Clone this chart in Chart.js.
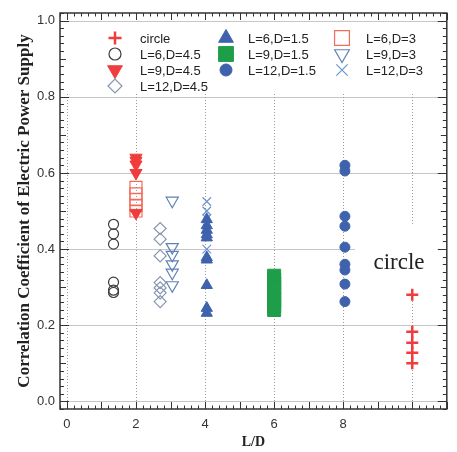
<!DOCTYPE html>
<html>
<head>
<meta charset="utf-8">
<script src="https://cdn.jsdelivr.net/npm/chart.js@4.4.0/dist/chart.umd.min.js"></script>
<style>
html, body { margin: 0; padding: 0; background: #fff; }
</style>
</head>
<body>
<canvas id="ldChart" width="457" height="452"></canvas>
<script>
// series, in legend order
var seriesNames = ['circle', 'L=6,D=4.5', 'L=9,D=4.5', 'L=12,D=4.5',
	'L=6,D=1.5', 'L=9,D=1.5', 'L=12,D=1.5',
	'L=6,D=3', 'L=9,D=3', 'L=12,D=3'];

// L/D position of each series
var seriesX = [10, 1.35, 2, 2.7, 4.05, 6, 8.05, 2, 3.05, 4.05];

// correlation coefficients
var yCircle = [0.28, 0.183, 0.154, 0.128, 0.10];
var yL6D45 = [0.465, 0.44, 0.413, 0.313, 0.292, 0.286];
var yL9D45 = [0.64, 0.632, 0.622, 0.60, 0.495];
var yL12D45 = [0.454, 0.426, 0.382, 0.312, 0.298, 0.285, 0.262];
var yL6D15 = [0.478, 0.462, 0.45, 0.438, 0.43, 0.378, 0.372, 0.305, 0.245, 0.232];
var yL9D15 = [0.33, 0.32, 0.31, 0.30, 0.29, 0.28, 0.27, 0.26, 0.25, 0.24];
var yL12D15 = [0.62, 0.605, 0.486, 0.46, 0.405, 0.36, 0.345, 0.308, 0.262];
var yL6D3 = [0.562, 0.545, 0.53, 0.515, 0.50];
var yL9D3 = [0.527, 0.405, 0.385, 0.36, 0.338, 0.305];
var yL12D3 = [0.525, 0.50, 0.48, 0.465, 0.40];

var seriesY = [yCircle, yL6D45, yL9D45, yL12D45, yL6D15, yL9D15, yL12D15, yL6D3, yL9D3, yL12D3];

var xTickValues = [0, 2, 4, 6, 8];
var yTickValues = [0, 0.2, 0.4, 0.6, 0.8, 1.0];
var xGridValues = [0, 2, 4, 6, 8, 10];

var NONE = 'rgba(0,0,0,0)';
var styles = [
	{ shape: 'cross', rot: 0, bg: NONE, border: '#f03c3c', bw: 2.5, r: 6, lr: 6.5 },
	{ shape: 'circle', rot: 0, bg: NONE, border: '#3c3c3c', bw: 1.2, r: 5, lr: 6 },
	{ shape: 'triangle', rot: 180, bg: '#f03c3c', border: '#f03c3c', bw: 1, r: 7, lr: 8.5 },
	{ shape: 'rectRot', rot: 0, bg: NONE, border: '#8596b0', bw: 1.2, r: 6, lr: 7 },
	{ shape: 'triangle', rot: 0, bg: '#3f62ad', border: '#3f62ad', bw: 1, r: 6.5, lr: 8.5 },
	{ shape: 'rect', rot: 0, bg: '#1f9e4a', border: '#1f9e4a', bw: 1, r: 9.2, lr: 10.5 },
	{ shape: 'circle', rot: 0, bg: '#3f62ad', border: '#3f62ad', bw: 1, r: 5, lr: 6 },
	{ shape: 'rect', rot: 0, bg: NONE, border: '#f26b5b', bw: 1.2, r: 8.5, lr: 10.5 },
	{ shape: 'triangle', rot: 180, bg: NONE, border: '#5f82b4', bw: 1.2, r: 7, lr: 8.5 },
	{ shape: 'crossRot', rot: 0, bg: NONE, border: '#6b93cc', bw: 1.2, r: 6, lr: 8 }
];

// legend grid: [column x of marker, column x of text] and row y
var legendCols = [[115, 140], [226, 248], [342, 366]];
var legendRows = [38, 54, 70, 86];
var legendSlots = [[0, 0], [0, 1], [0, 2], [0, 3], [1, 0], [1, 1], [1, 2], [2, 0], [2, 1], [2, 2]];

var datasets = [];
for(var i = 0; i < seriesNames.length; i++) {
	var s = styles[i];
	datasets.push({
		label: seriesNames[i],
		data: seriesY[i].map(function(v) { return { x: seriesX[i], y: v }; }),
		pointStyle: s.shape,
		pointRotation: s.rot,
		pointRadius: s.r,
		pointHoverRadius: s.r,
		pointBackgroundColor: s.bg,
		pointBorderColor: s.border,
		pointBorderWidth: s.bw,
		showLine: false
	});
}

function drawMarker(ctx, s, x, y, r) {
	ctx.save();
	ctx.fillStyle = s.bg;
	ctx.strokeStyle = s.border;
	ctx.lineWidth = s.bw;
	Chart.helpers.drawPoint(ctx, { pointStyle: s.shape, radius: r, rotation: s.rot, borderWidth: s.bw }, x, y);
	ctx.restore();
}

// grid lines, white label boxes
var backdrop = {
	id: 'backdrop',
	beforeDatasetsDraw: function(chart) {
		var ctx = chart.ctx, a = chart.chartArea;
		var xs = chart.scales.x, ys = chart.scales.y;
		ctx.save();
		ctx.lineWidth = 1;
		ctx.strokeStyle = '#c6c6c6';
		yTickValues.forEach(function(v) {
			var py = Math.round(ys.getPixelForValue(v)) + 0.5;
			ctx.beginPath(); ctx.moveTo(a.left, py); ctx.lineTo(a.right, py); ctx.stroke();
		});
		ctx.strokeStyle = '#9a9a9a';
		ctx.setLineDash([1, 2]);
		xGridValues.forEach(function(v) {
			var px = Math.round(xs.getPixelForValue(v)) + 0.5;
			ctx.beginPath(); ctx.moveTo(px, a.top); ctx.lineTo(px, a.bottom); ctx.stroke();
		});
		ctx.setLineDash([]);
		ctx.fillStyle = '#fff';
		ctx.fillRect(a.left + 4, a.top + 9, a.right - a.left - 8, 72);
		ctx.fillRect(355, 224, a.right - 357, 66);
		ctx.fillStyle = '#222';
		ctx.font = '23px "Liberation Serif"';
		ctx.textAlign = 'center';
		ctx.textBaseline = 'middle';
		ctx.fillText('circle', 399, 263);
		ctx.restore();
	},
	afterDatasetsDraw: function(chart) {
		var ctx = chart.ctx;
		ctx.save();
		ctx.font = '13px "Liberation Sans"';
		ctx.fillStyle = '#222';
		ctx.textAlign = 'left';
		ctx.textBaseline = 'middle';
		for(var i = 0; i < seriesNames.length; i++) {
			var col = legendCols[legendSlots[i][0]];
			var y = legendRows[legendSlots[i][1]];
			drawMarker(ctx, styles[i], col[0], y, styles[i].lr);
			ctx.fillText(seriesNames[i], col[1], y + 1);
		}
		ctx.restore();
	},
	afterDraw: function(chart) {
		var ctx = chart.ctx, a = chart.chartArea;
		var xs = chart.scales.x, ys = chart.scales.y;
		ctx.save();
		ctx.strokeStyle = '#333';
		ctx.lineWidth = 1;
		ctx.beginPath();
		for(var k = -1; k <= 55; k++) {
			var px = Math.round(xs.getPixelForValue(k * 0.2)) + 0.5;
			var len = (k % 5 === 0) ? 7 : 3.5;
			ctx.moveTo(px, a.bottom); ctx.lineTo(px, a.bottom - len);
			ctx.moveTo(px, a.top); ctx.lineTo(px, a.top + len);
		}
		for(var j = -1; j <= 51; j++) {
			var py = Math.round(ys.getPixelForValue(j * 0.02)) + 0.5;
			var l2 = (j % 10 === 0) ? 9 : (j % 5 === 0 ? 6 : 4);
			ctx.moveTo(a.left, py); ctx.lineTo(a.left + l2, py);
			ctx.moveTo(a.right, py); ctx.lineTo(a.right - l2, py);
		}
		ctx.stroke();
		ctx.lineWidth = 1.5;
		ctx.strokeRect(a.left, a.top, a.right - a.left, a.bottom - a.top);
		ctx.restore();
	}
};

var ctx = document.getElementById('ldChart').getContext('2d');
var chart = new Chart(ctx, {
	type: 'scatter',
	data: { datasets: datasets },
	plugins: [backdrop],
	options: {
		responsive: false,
		devicePixelRatio: 1,
		animation: false,
		layout: { padding: { top: 13, right: 5, left: 0, bottom: 0 } },
		plugins: {
			legend: { display: false },
			tooltip: { enabled: false }
		},
		scales: {
			x: {
				type: 'linear',
				min: -0.2,
				max: 11,
				afterBuildTicks: function(scale) {
					scale.ticks = xTickValues.map(function(v) { return { value: v }; });
				},
				afterFit: function(scale) { scale.height = 43; },
				grid: { display: false, drawTicks: false },
				border: { display: false },
				ticks: {
					padding: 8,
					color: '#333',
					font: { family: 'Liberation Sans', size: 13 },
					callback: function(v) { return v; }
				},
				title: {
					display: true,
					text: 'L/D',
					color: '#222',
					font: { family: 'Liberation Serif', size: 14, weight: 'bold' },
					padding: { top: 0, bottom: 1 }
				}
			},
			y: {
				type: 'linear',
				min: -0.02,
				max: 1.02,
				afterBuildTicks: function(scale) {
					scale.ticks = yTickValues.map(function(v) { return { value: v }; });
				},
				afterFit: function(scale) { scale.width = 60; },
				grid: { display: false, drawTicks: false },
				border: { display: false },
				ticks: {
					padding: 5,
					color: '#333',
					font: { family: 'Liberation Sans', size: 13 },
					callback: function(v) { return v.toFixed(1); }
				},
				title: {
					display: true,
					text: 'Correlation Coefficient of Electric Power Supply',
					color: '#222',
					font: { family: 'Liberation Serif', size: 17, weight: 'bold' },
					padding: { top: 14, bottom: 0 }
				}
			}
		}
	}
});
</script>
</body>
</html>
